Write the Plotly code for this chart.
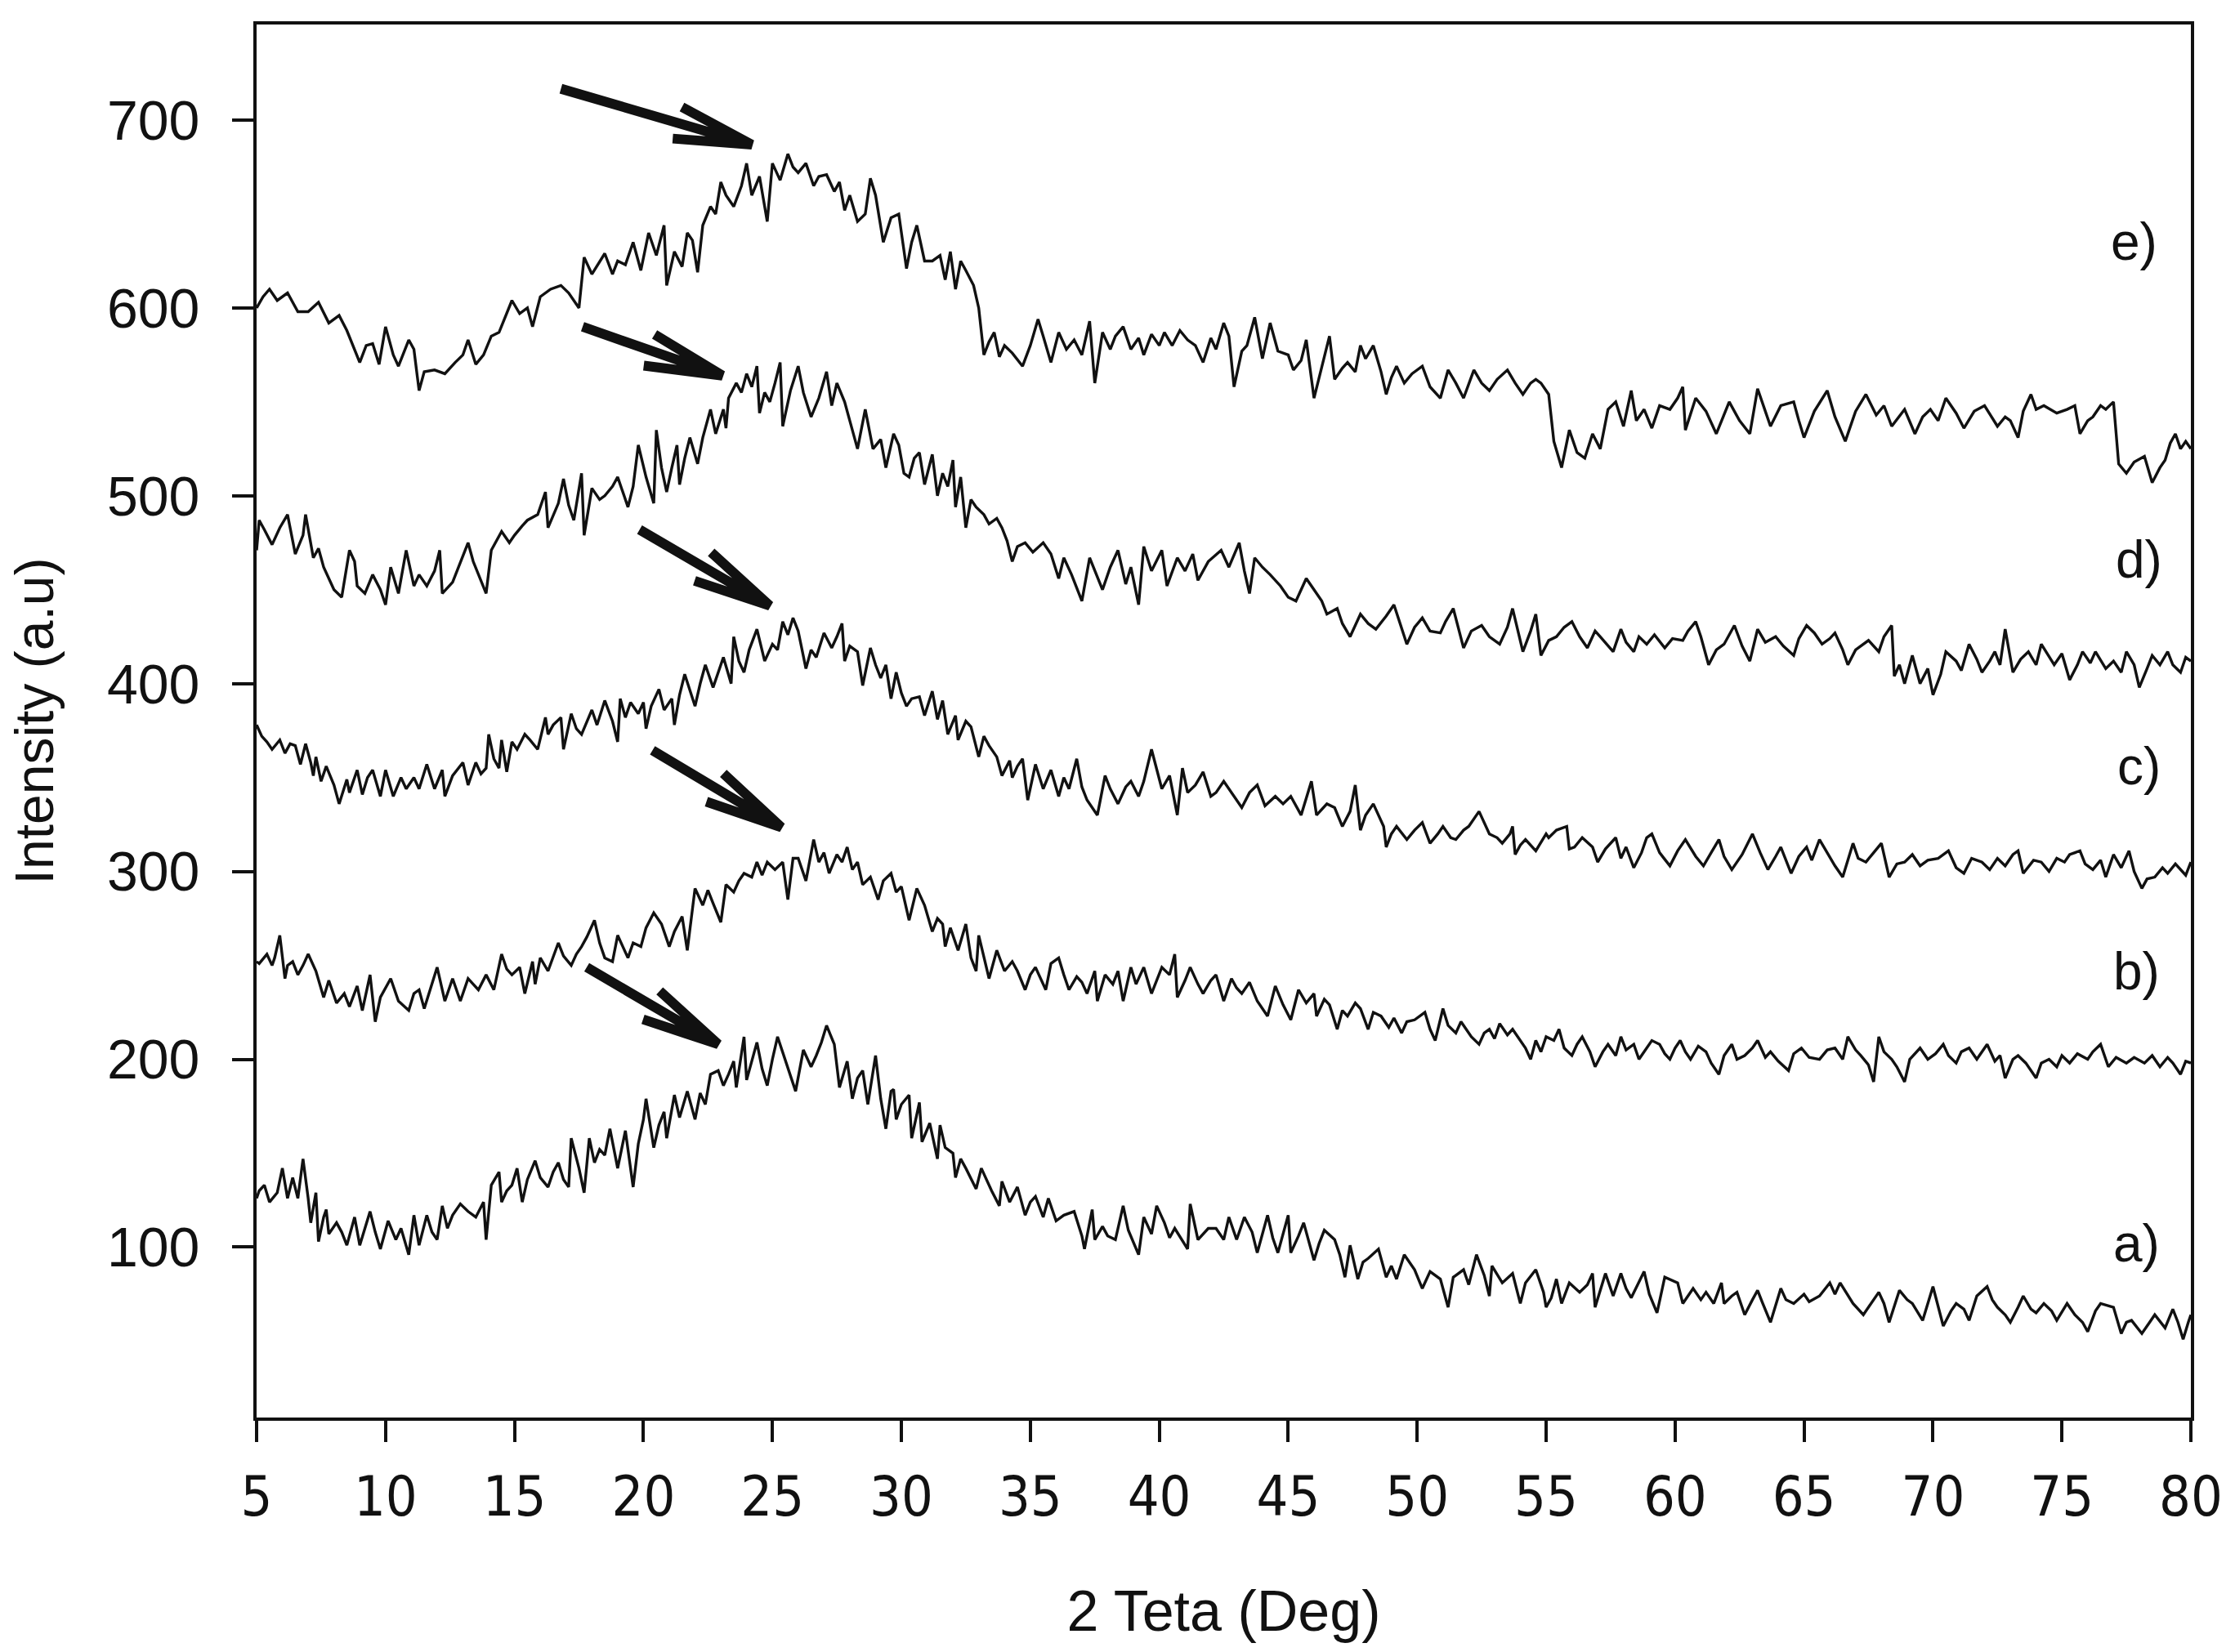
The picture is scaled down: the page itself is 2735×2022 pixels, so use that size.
import math
import plotly.graph_objects as go

# ---------------- data ----------------
curve_e = [(5.0,600),(5.25,606),(5.5,610),(5.8,604),(6.2,608),(6.6,598),(7.0,598),(7.4,603),(7.8,592),(8.2,596),
(8.5,588),(9.0,571),(9.25,580),(9.5,581),(9.75,570),(10.0,590),(10.3,575),(10.5,569),(10.9,583),(11.1,578),
(11.3,556),(11.5,566),(11.9,567),(12.3,565),(12.7,571),(13.0,575),(13.2,583),(13.5,570),(13.8,575),(14.1,585),
(14.4,587),(14.9,604),(15.2,597),(15.5,600),(15.7,590),(16.0,606),(16.4,610),(16.8,612),(17.1,608),(17.5,600),
(17.7,627),(18.0,618),(18.5,629),(18.8,618),(19.0,625),(19.3,623),(19.6,635),(19.9,620),(20.2,640),(20.5,628),
(20.8,644),(20.9,612),(21.2,630),(21.5,622),(21.7,640),(21.9,636),(22.1,619),(22.3,644),(22.6,654),(22.8,650),
(23.0,667),(23.2,660),(23.5,654),(23.8,665),(24.0,677),(24.2,660),(24.5,670),(24.8,646),(25.0,677),(25.3,668),
(25.6,682),(25.8,675),(26.0,672),(26.3,677),(26.6,665),(26.8,670),(27.1,671),(27.4,662),(27.6,667),(27.8,652),
(28.0,660),(28.3,646),(28.6,650),(28.8,669),(29.0,660),(29.3,635),(29.6,648),(29.9,650),(30.2,621),(30.4,635),
(30.6,644),(30.9,625),(31.2,625),(31.5,628),(31.7,615),(31.9,630),(32.1,610),(32.3,625),(32.5,620),(32.8,612),
(33.0,600),(33.2,575),(33.4,582),(33.6,587),(33.8,574),(34.0,580),(34.3,576),(34.7,569),(35.0,580),(35.3,594),
(35.5,585),(35.8,571),(36.1,587),(36.4,578),(36.7,583),(37.0,575),(37.3,593),(37.5,560),(37.8,587),(38.1,578),
(38.3,585),(38.6,590),(38.9,578),(39.2,584),(39.4,575),(39.7,586),(40.0,580),(40.2,587),(40.5,580),(40.8,588),
(41.1,583),(41.4,580),(41.7,571),(42.0,584),(42.2,578),(42.5,592),(42.7,585),(42.9,558),(43.2,577),(43.4,580),
(43.7,595),(44.0,573),(44.3,592),(44.6,577),(45.0,575),(45.2,567),(45.5,572),(45.7,583),(46.0,552),(46.3,568),
(46.6,585),(46.8,562),(47.1,568),(47.3,571),(47.6,566),(47.8,580),(48.0,573),(48.3,580),(48.6,566),(48.8,554),
(49.0,563),(49.2,569),(49.5,560),(49.8,565),(50.2,569),(50.5,558),(50.9,552),(51.2,567),(51.5,560),(51.8,552),
(52.2,567),(52.5,560),(52.8,556),(53.1,562),(53.5,567),(53.8,560),(54.1,554),(54.4,560),(54.6,562),(54.8,560),
(55.1,554),(55.3,529),(55.6,515),(55.9,535),(56.2,523),(56.5,520),(56.8,533),(57.1,525),(57.4,546),(57.7,550),
(58.0,537),(58.3,556),(58.5,540),(58.8,546),(59.1,536),(59.4,548),(59.8,546),(60.1,552),(60.3,558),(60.4,535),
(60.8,552),(61.2,545),(61.6,533),(62.1,550),(62.5,540),(62.9,533),(63.2,557),(63.5,545),(63.7,537),(64.1,548),
(64.6,550),(64.8,540),(65.0,531),(65.4,545),(65.9,556),(66.2,542),(66.6,529),(67.0,545),(67.4,554),(67.8,543),
(68.1,548),(68.4,537),(68.9,546),(69.3,533),(69.6,542),(69.9,546),(70.2,540),(70.5,552),(70.9,544),(71.2,536),
(71.6,545),(72.0,548),(72.5,537),(72.8,542),(73.0,540),(73.3,531),(73.5,545),(73.8,554),(74.0,546),(74.3,548),
(74.8,544),(75.2,546),(75.5,548),(75.7,533),(76.0,540),(76.2,542),(76.5,548),(76.7,546),(77.0,550),(77.2,517),
(77.5,512),(77.8,518),(78.2,521),(78.5,507),(78.8,515),(79.0,519),(79.2,528),(79.4,533),(79.6,525),(79.8,529),
(80.0,525)]

curve_d = [(5.0,471),(5.1,487),(5.3,482),(5.6,474),(5.9,483),(6.2,490),(6.5,469),(6.8,479),(6.9,490),(7.2,467),
(7.4,472),(7.6,462),(8.0,450),(8.3,446),(8.6,471),(8.8,465),(8.9,452),(9.2,448),(9.5,458),(9.8,450),
(10.0,442),(10.2,462),(10.5,448),(10.8,471),(11.1,452),(11.3,458),(11.6,452),(11.9,460),(12.1,471),(12.2,448),
(12.6,454),(12.9,465),(13.2,475),(13.4,465),(13.6,458),(13.9,448),(14.1,471),(14.5,481),(14.8,475),(15.0,479),
(15.3,484),(15.5,487),(15.9,490),(16.2,502),(16.3,483),(16.7,496),(16.9,509),(17.1,495),(17.3,487),(17.6,512),
(17.7,479),(18.0,504),(18.3,498),(18.5,500),(18.8,505),(19.0,510),(19.4,494),(19.6,505),(19.8,527),(20.1,510),
(20.4,496),(20.5,535),(20.7,515),(20.9,502),(21.1,515),(21.3,527),(21.4,506),(21.6,520),(21.8,531),(22.1,517),
(22.3,531),(22.6,546),(22.8,533),(23.1,546),(23.2,536),(23.3,552),(23.6,560),(23.8,555),(24.0,565),(24.2,558),
(24.4,569),(24.5,544),(24.7,555),(24.9,550),(25.1,560),(25.3,571),(25.4,537),(25.7,556),(26.0,569),(26.2,555),
(26.5,542),(26.8,552),(27.1,566),(27.3,548),(27.5,560),(27.8,550),(28.0,540),(28.3,525),(28.6,546),(28.9,525),
(29.2,530),(29.4,515),(29.7,533),(29.9,527),(30.1,512),(30.3,510),(30.5,520),(30.7,523),(30.9,506),(31.2,522),
(31.4,500),(31.6,512),(31.8,505),(32.0,519),(32.1,494),(32.3,510),(32.5,483),(32.7,498),(32.9,494),(33.2,490),
(33.4,485),(33.7,488),(33.9,483),(34.1,476),(34.3,465),(34.5,473),(34.8,475),(35.1,470),(35.5,475),(35.8,469),
(36.1,456),(36.3,467),(36.6,458),(37.0,444),(37.3,467),(37.5,460),(37.8,450),(38.1,462),(38.4,471),(38.7,453),
(38.9,462),(39.2,442),(39.4,473),(39.7,460),(40.1,471),(40.3,452),(40.7,467),(41.0,460),(41.3,469),(41.5,455),
(41.9,465),(42.4,471),(42.7,462),(43.1,475),(43.3,460),(43.5,448),(43.7,467),(44.0,462),(44.3,458),(44.7,452),
(45.0,446),(45.3,444),(45.7,456),(46.0,450),(46.3,444),(46.5,437),(46.9,440),(47.1,432),(47.4,425),(47.8,437),
(48.1,432),(48.4,429),(48.8,436),(49.1,442),(49.4,430),(49.6,421),(49.9,430),(50.2,435),(50.5,428),(50.9,427),
(51.1,433),(51.4,440),(51.8,419),(52.1,428),(52.5,431),(52.8,425),(53.2,421),(53.5,430),(53.7,440),(54.1,417),
(54.4,428),(54.6,437),(54.8,415),(55.1,423),(55.4,425),(55.7,430),(56.0,433),(56.3,425),(56.6,419),(56.9,428),
(57.1,425),(57.4,420),(57.6,417),(57.9,429),(58.1,422),(58.4,417),(58.6,425),(58.9,421),(59.2,426),(59.6,419),
(59.9,424),(60.3,423),(60.5,428),(60.8,433),(61.0,425),(61.3,410),(61.6,418),(61.9,421),(62.1,426),(62.3,431),
(62.6,420),(62.9,412),(63.2,429),(63.5,422),(63.9,425),(64.2,420),(64.6,415),(64.8,424),(65.1,431),(65.4,427),
(65.7,421),(66.0,424),(66.2,427),(66.5,418),(66.7,410),(67.0,418),(67.5,423),(67.9,417),(68.1,425),(68.4,431),
(68.5,404),(68.7,410),(68.9,400),(69.2,415),(69.5,400),(69.8,408),(70.0,394),(70.3,405),(70.5,417),(70.9,412),
(71.1,407),(71.4,421),(71.7,413),(71.9,406),(72.2,412),(72.4,417),(72.6,410),(72.8,429),(73.1,406),(73.4,413),
(73.7,417),(74.0,410),(74.2,421),(74.5,414),(74.7,410),(75.0,416),(75.3,402),(75.6,410),(75.8,417),(76.1,411),
(76.3,417),(76.7,408),(77.0,412),(77.3,406),(77.5,417),(77.8,410),(78.0,398),(78.3,408),(78.5,415),(78.8,410),
(79.1,417),(79.3,410),(79.6,406),(79.8,414),(80.0,412)]

curve_c = [(5.0,378),(5.2,372),(5.4,369),(5.6,365),(5.9,370),(6.1,363),(6.3,368),(6.5,367),(6.7,357),(6.9,368),
(7.1,358),(7.2,351),(7.3,361),(7.5,348),(7.7,356),(8.0,346),(8.2,336),(8.5,349),(8.6,342),(8.9,354),
(9.1,341),(9.3,350),(9.5,354),(9.8,340),(10.0,354),(10.3,340),(10.6,350),(10.8,344),(11.1,350),(11.3,344),
(11.6,357),(11.9,344),(12.2,354),(12.3,340),(12.6,351),(13.0,358),(13.2,346),(13.5,358),(13.7,352),(13.9,355),
(14.0,373),(14.2,360),(14.4,355),(14.5,370),(14.7,353),(14.9,369),(15.1,365),(15.4,373),(15.6,370),(15.9,365),
(16.2,382),(16.3,373),(16.5,378),(16.8,382),(16.9,365),(17.2,384),(17.4,376),(17.6,373),(18.0,386),(18.2,378),
(18.5,391),(18.8,380),(19.0,369),(19.1,392),(19.3,382),(19.5,390),(19.8,384),(20.0,390),(20.1,376),(20.3,388),
(20.6,397),(20.8,386),(21.1,392),(21.2,378),(21.4,394),(21.6,405),(22.0,388),(22.2,400),(22.4,410),(22.7,398),
(22.9,406),(23.1,414),(23.4,400),(23.5,425),(23.7,412),(23.9,406),(24.1,418),(24.4,429),(24.7,412),(25.0,421),
(25.2,418),(25.4,433),(25.6,426),(25.8,435),(26.0,428),(26.3,408),(26.5,418),(26.7,414),(27.0,427),(27.3,419),
(27.5,425),(27.7,432),(27.8,412),(28.0,420),(28.3,417),(28.5,399),(28.8,419),(29.0,410),(29.2,403),(29.4,410),
(29.6,392),(29.8,406),(30.0,395),(30.2,388),(30.4,392),(30.7,393),(30.9,383),(31.2,396),(31.4,381),(31.6,391),
(31.8,373),(32.1,383),(32.2,370),(32.5,380),(32.7,377),(33.0,361),(33.2,372),(33.4,367),(33.7,361),(33.9,351),
(34.2,359),(34.3,350),(34.5,356),(34.7,360),(34.9,338),(35.2,357),(35.5,344),(35.8,354),(36.1,340),(36.3,350),
(36.5,344),(36.8,360),(37.0,345),(37.2,338),(37.6,330),(37.9,351),(38.1,344),(38.4,336),(38.7,345),(38.9,348),
(39.2,340),(39.4,348),(39.7,365),(40.1,344),(40.4,351),(40.7,330),(40.9,355),(41.1,342),(41.4,346),(41.7,353),
(42.0,340),(42.2,342),(42.5,348),(42.7,344),(43.0,338),(43.2,334),(43.5,342),(43.8,346),(44.1,335),(44.5,340),
(44.8,336),(45.1,340),(45.5,330),(45.9,348),(46.1,330),(46.5,336),(46.8,334),(47.1,324),(47.4,332),(47.6,346),
(47.8,322),(48.0,330),(48.3,336),(48.7,324),(48.8,313),(49.0,320),(49.2,324),(49.6,317),(49.9,322),(50.2,326),
(50.5,315),(50.8,320),(51.0,324),(51.3,318),(51.5,317),(51.8,322),(52.0,324),(52.4,332),(52.8,320),(53.1,318),
(53.3,315),(53.6,320),(53.7,324),(53.8,309),(54.0,314),(54.2,317),(54.6,311),(55.0,320),(55.1,318),(55.4,322),
(55.8,324),(55.9,312),(56.1,313),(56.4,318),(56.8,313),(57.0,305),(57.3,312),(57.7,318),(57.9,307),(58.1,313),
(58.4,302),(58.7,310),(58.9,318),(59.1,320),(59.4,310),(59.8,303),(60.1,311),(60.4,317),(60.8,308),(61.1,303),
(61.4,310),(61.7,317),(61.9,308),(62.2,301),(62.6,309),(63.0,320),(63.3,310),(63.6,301),(63.9,308),(64.1,313),
(64.5,299),(64.8,308),(65.1,313),(65.3,306),(65.6,317),(66.0,308),(66.2,303),(66.5,297),(66.9,315),(67.1,307),
(67.4,305),(67.7,310),(68.0,315),(68.3,297),(68.6,304),(68.9,305),(69.2,309),(69.5,303),(69.8,306),(70.2,307),
(70.6,311),(70.9,302),(71.2,299),(71.5,307),(71.9,305),(72.2,301),(72.5,307),(72.8,303),(73.1,309),(73.3,311),
(73.5,299),(73.9,306),(74.2,305),(74.5,300),(74.8,307),(75.1,305),(75.3,309),(75.7,311),(75.9,304),(76.2,301),
(76.5,306),(76.7,297),(77.0,309),(77.3,302),(77.6,311),(77.8,300),(78.1,291),(78.3,296),(78.6,297),(78.9,302),
(79.1,299),(79.4,304),(79.6,301),(79.8,298),(80.0,305)]

curve_b = [(5.0,252),(5.1,251),(5.4,256),(5.6,250),(5.7,254),(5.9,266),(6.1,243),(6.2,250),(6.4,252),(6.6,245),
(6.8,250),(7.0,256),(7.3,247),(7.6,233),(7.8,242),(8.1,230),(8.4,235),(8.6,228),(8.9,239),(9.1,226),
(9.4,245),(9.6,220),(9.8,233),(10.0,238),(10.2,243),(10.5,231),(10.9,226),(11.1,235),(11.3,237),(11.5,227),
(11.8,240),(12.0,249),(12.3,231),(12.6,243),(12.9,231),(13.2,243),(13.4,240),(13.6,237),(13.9,245),(14.2,237),
(14.5,256),(14.7,248),(14.9,245),(15.2,249),(15.4,235),(15.7,252),(15.8,240),(16.0,254),(16.3,247),(16.5,255),
(16.7,262),(16.9,255),(17.2,250),(17.4,256),(17.6,260),(17.8,265),(18.1,274),(18.3,262),(18.5,254),(18.8,252),
(19.0,266),(19.2,260),(19.4,254),(19.6,262),(19.9,260),(20.1,270),(20.4,278),(20.7,272),(21.0,260),(21.2,268),
(21.5,276),(21.7,258),(22.0,291),(22.3,282),(22.5,290),(22.7,283),(23.0,273),(23.2,293),(23.5,289),(23.7,295),
(23.9,299),(24.2,297),(24.4,305),(24.6,298),(24.8,305),(25.1,301),(25.4,305),(25.6,285),(25.8,307),(26.0,307),
(26.3,295),(26.6,317),(26.8,305),(27.0,310),(27.2,299),(27.5,309),(27.7,305),(27.9,313),(28.1,301),(28.3,305),
(28.5,293),(28.8,297),(29.1,285),(29.3,295),(29.6,299),(29.8,289),(30.0,292),(30.3,274),(30.6,291),(30.9,282),
(31.2,268),(31.4,275),(31.6,272),(31.7,260),(31.9,270),(32.2,258),(32.5,272),(32.7,254),(32.9,247),(33.0,266),
(33.2,255),(33.4,243),(33.7,258),(34.0,247),(34.3,252),(34.5,247),(34.8,237),(35.0,245),(35.2,249),(35.6,237),
(35.8,251),(36.1,254),(36.3,245),(36.5,237),(36.8,244),(37.0,241),(37.2,235),(37.5,247),(37.6,231),(37.9,245),
(38.2,240),(38.4,247),(38.6,231),(38.9,249),(39.1,240),(39.4,249),(39.7,235),(40.1,249),(40.4,245),(40.6,256),
(40.7,233),(41.0,242),(41.2,249),(41.5,240),(41.7,235),(42.0,242),(42.2,245),(42.5,231),(42.8,243),(43.0,238),
(43.2,235),(43.5,241),(43.8,231),(44.2,223),(44.5,239),(44.8,229),(45.1,221),(45.4,237),(45.7,230),(46.0,235),
(46.1,223),(46.4,232),(46.6,229),(46.9,216),(47.1,226),(47.3,223),(47.6,230),(47.8,227),(48.1,216),(48.3,225),
(48.6,223),(48.9,217),(49.1,222),(49.4,214),(49.6,220),(49.9,221),(50.3,225),(50.5,216),(50.7,210),(51.0,227),
(51.2,218),(51.5,214),(51.7,220),(51.9,216),(52.1,212),(52.4,208),(52.6,214),(52.8,216),(53.0,211),(53.2,219),
(53.5,213),(53.7,216),(54.0,210),(54.2,206),(54.4,200),(54.6,210),(54.8,204),(55.0,212),(55.3,210),(55.5,216),
(55.7,206),(56.0,202),(56.2,208),(56.4,212),(56.7,204),(56.9,196),(57.2,204),(57.4,208),(57.7,202),(57.9,212),
(58.1,205),(58.4,208),(58.6,200),(58.8,204),(59.1,210),(59.4,208),(59.6,203),(59.8,200),(60.0,206),(60.2,210),
(60.4,204),(60.6,200),(60.9,207),(61.2,204),(61.4,198),(61.7,192),(61.9,202),(62.2,208),(62.4,200),(62.7,202),
(63.0,206),(63.2,210),(63.5,201),(63.7,204),(64.0,199),(64.4,194),(64.6,203),(64.9,206),(65.2,201),(65.6,200),
(65.9,205),(66.2,206),(66.5,200),(66.7,212),(67.0,205),(67.2,202),(67.5,197),(67.7,188),(67.9,212),(68.1,204),
(68.4,200),(68.6,196),(68.9,188),(69.1,200),(69.5,206),(69.8,200),(70.1,203),(70.4,208),(70.6,202),(70.9,198),
(71.1,204),(71.4,206),(71.7,200),(72.1,208),(72.4,199),(72.6,202),(72.8,190),(73.1,200),(73.3,202),(73.6,198),
(74.0,190),(74.2,198),(74.5,200),(74.8,196),(75.0,202),(75.3,198),(75.6,203),(76.0,200),(76.2,204),(76.5,208),
(76.8,196),(77.1,201),(77.5,198),(77.8,201),(78.2,198),(78.5,202),(78.8,196),(79.1,201),(79.3,198),(79.6,192),
(79.8,199),(80.0,198)]

curve_a = [(5.0,126),(5.1,130),(5.3,133),(5.5,124),(5.8,129),(6.0,142),(6.2,126),(6.4,137),(6.6,126),(6.8,147),
(7.0,126),(7.1,113),(7.3,129),(7.4,103),(7.6,116),(7.7,120),(7.8,107),(8.1,113),(8.3,108),(8.5,101),
(8.8,116),(9.0,101),(9.2,110),(9.4,119),(9.6,108),(9.8,99),(10.1,114),(10.4,104),(10.6,110),(10.9,96),
(11.1,117),(11.3,101),(11.6,117),(11.8,108),(12.0,104),(12.2,122),(12.4,110),(12.6,117),(12.9,123),(13.2,119),
(13.5,116),(13.8,124),(13.9,104),(14.1,133),(14.4,140),(14.5,124),(14.7,130),(14.9,133),(15.1,142),(15.3,124),
(15.5,136),(15.8,146),(16.0,137),(16.3,132),(16.5,140),(16.7,145),(16.9,136),(17.1,132),(17.2,158),(17.5,142),
(17.7,129),(17.9,158),(18.1,145),(18.3,152),(18.5,149),(18.7,163),(19.0,142),(19.3,162),(19.6,132),(19.8,155),
(20.0,168),(20.1,179),(20.4,153),(20.6,165),(20.8,172),(20.9,158),(21.2,181),(21.4,169),(21.7,183),(22.0,168),
(22.2,182),(22.4,176),(22.6,192),(22.9,194),(23.1,186),(23.3,192),(23.5,199),(23.6,185),(23.9,212),(24.0,189),
(24.4,209),(24.6,195),(24.8,186),(25.0,200),(25.2,212),(25.4,204),(25.6,196),(25.9,183),(26.2,205),(26.5,196),
(26.7,202),(26.9,209),(27.1,218),(27.4,208),(27.6,185),(27.9,199),(28.1,179),(28.3,190),(28.5,194),(28.7,176),
(29.0,202),(29.2,179),(29.4,163),(29.6,183),(29.7,184),(29.8,168),(30.0,176),(30.3,181),(30.4,158),(30.7,177),
(30.8,156),(31.1,166),(31.4,147),(31.5,165),(31.7,153),(32.0,150),(32.1,137),(32.3,147),(32.5,142),(32.9,131),
(33.1,142),(33.3,136),(33.5,130),(33.8,122),(33.9,135),(34.2,124),(34.5,132),(34.8,117),(35.0,124),(35.2,127),
(35.5,116),(35.7,126),(36.0,114),(36.3,117),(36.7,119),(37.0,106),(37.1,99),(37.4,120),(37.5,104),(37.8,111),
(38.0,106),(38.3,104),(38.6,122),(38.8,109),(39.2,96),(39.4,116),(39.7,107),(39.9,122),(40.2,113),(40.4,105),
(40.6,110),(41.1,99),(41.2,123),(41.5,104),(41.9,110),(42.2,110),(42.5,104),(42.7,116),(43.0,104),(43.3,116),
(43.6,108),(43.8,97),(44.2,117),(44.4,105),(44.6,97),(45.0,117),(45.1,97),(45.4,106),(45.6,113),(46.0,93),
(46.2,102),(46.4,109),(46.8,104),(47.0,96),(47.2,84),(47.4,101),(47.7,83),(47.9,92),(48.1,94),(48.5,99),
(48.8,84),(49.0,90),(49.2,83),(49.5,96),(49.9,88),(50.2,78),(50.5,87),(50.9,83),(51.2,68),(51.4,84),
(51.8,88),(52.0,80),(52.3,96),(52.6,85),(52.8,74),(52.9,90),(53.3,81),(53.7,86),(54.0,70),(54.2,81),
(54.6,88),(54.9,76),(55.0,68),(55.2,73),(55.4,83),(55.6,70),(55.9,81),(56.3,76),(56.6,80),(56.8,86),
(56.9,68),(57.3,86),(57.6,74),(57.9,86),(58.1,78),(58.3,73),(58.8,87),(59.0,75),(59.3,65),(59.6,84),
(60.1,81),(60.3,70),(60.7,78),(61.0,72),(61.2,76),(61.5,70),(61.8,81),(61.9,70),(62.2,74),(62.4,76),
(62.7,64),(63.0,72),(63.2,77),(63.4,70),(63.7,60),(64.1,78),(64.3,72),(64.6,70),(65.0,75),(65.2,71),
(65.6,74),(66.0,81),(66.2,75),(66.4,81),(66.7,74),(66.9,70),(67.3,64),(67.6,70),(67.9,76),(68.1,70),
(68.3,60),(68.7,77),(69.0,72),(69.2,70),(69.6,61),(70.0,79),(70.2,68),(70.4,58),(70.7,66),(70.9,70),
(71.2,67),(71.4,61),(71.7,74),(72.1,79),(72.3,72),(72.5,68),(72.8,64),(73.0,60),(73.3,68),(73.5,74),
(73.8,67),(74.0,65),(74.3,70),(74.6,66),(74.8,61),(75.2,70),(75.5,64),(75.8,60),(76.0,55),(76.3,66),
(76.5,70),(77.0,68),(77.3,54),(77.5,60),(77.7,61),(78.1,54),(78.4,60),(78.6,64),(79.0,57),(79.3,67),
(79.5,60),(79.7,51),(79.9,60),(80.0,64)]

series_names = ["a)", "b)", "c)", "d)", "e)"]
series_data = [curve_a, curve_b, curve_c, curve_d, curve_e]

label_x = [77.9, 77.9, 78.0, 78.0, 77.8]
label_y = [102, 247, 356, 466, 635]

arrow_tail_x = [17.8, 20.35, 19.85, 17.64, 16.8]
arrow_tail_y = [249, 364.5, 482, 590, 716.7]
arrow_tip_x = [22.9, 25.35, 24.9, 23.06, 24.2]
arrow_tip_y = [208, 323.5, 441.5, 564, 687]

x_ticks = list(range(5, 81, 5))
y_ticks = [100, 200, 300, 400, 500, 600, 700]

# ---------------- layout geometry ----------------
W, H = 2735, 2022
ML, MR, MT, MB = 314, 54, 30, 287
X_RANGE = [5, 80]
Y_RANGE = [9.3, 750.9]
plot_w = W - ML - MR
plot_h = H - MT - MB
px_x = plot_w / (X_RANGE[1] - X_RANGE[0])
px_y = plot_h / (Y_RANGE[1] - Y_RANGE[0])

INK = "#111111"

fig = go.Figure()
for name, data in zip(series_names, series_data):
    fig.add_trace(go.Scatter(
        x=[p[0] for p in data], y=[p[1] for p in data],
        mode="lines", name=name, line=dict(color=INK, width=3.4),
        showlegend=False, hoverinfo="skip"))

# series labels
for name, lx, ly in zip(series_names, label_x, label_y):
    fig.add_annotation(x=lx, y=ly, xref="x", yref="y", text=name, showarrow=False,
                       font=dict(family="Liberation Sans, Arial", size=64, color=INK))

# arrows (shaft + two barbs), computed in pixel space
BARB_LEN = 97
BARB_ANG = math.radians(12)
for tx, ty, hx, hy in zip(arrow_tail_x, arrow_tail_y, arrow_tip_x, arrow_tip_y):
    dx = (tx - hx) * px_x
    dy = -(ty - hy) * px_y  # pixel y grows downward
    ang = math.atan2(dy, dx)
    pts = []
    for s in (+1, -1):
        a = ang + s * BARB_ANG
        bx = hx + BARB_LEN * math.cos(a) / px_x
        by = hy - BARB_LEN * math.sin(a) / px_y
        pts.append((bx, by))
    path = (f"M{tx},{ty} L{hx},{hy} "
            f"M{pts[0][0]},{pts[0][1]} L{hx},{hy} L{pts[1][0]},{pts[1][1]}")
    fig.add_shape(type="path", path=path, xref="x", yref="y",
                  line=dict(color=INK, width=12))

fig.update_layout(
    width=W, height=H,
    margin=dict(l=ML, r=MR, t=MT, b=MB, pad=0),
    paper_bgcolor="white", plot_bgcolor="white",
    showlegend=False,
)
fig.update_xaxes(
    range=X_RANGE, tickvals=x_ticks, ticktext=[str(t) for t in x_ticks],
    showgrid=False, zeroline=False,
    showline=True, linecolor=INK, linewidth=4, mirror=True,
    ticks="outside", ticklen=26, tickwidth=4, tickcolor=INK,
    tickfont=dict(family="Liberation Sans Narrow, DejaVu Sans Condensed, Liberation Sans", size=68, color=INK),
    ticklabelstandoff=8,
    title=dict(text="2 Teta (Deg)", standoff=78,
               font=dict(family="Liberation Sans, Arial", size=70, color=INK)),
)
fig.update_yaxes(
    range=Y_RANGE, tickvals=y_ticks, ticktext=[str(t) for t in y_ticks],
    showgrid=False, zeroline=False,
    showline=True, linecolor=INK, linewidth=4, mirror=True,
    ticks="outside", ticklen=26, tickwidth=4, tickcolor=INK,
    tickfont=dict(family="Liberation Sans, Arial", size=68, color=INK),
    ticklabelstandoff=26,
    title=dict(text="Intensity (a.u)", standoff=45,
               font=dict(family="Liberation Sans, Arial", size=66, color=INK)),
)

fig.write_html("out.html", config={"displayModeBar": False},
               post_script="document.body.style.margin='0';document.body.style.overflow='hidden';")
